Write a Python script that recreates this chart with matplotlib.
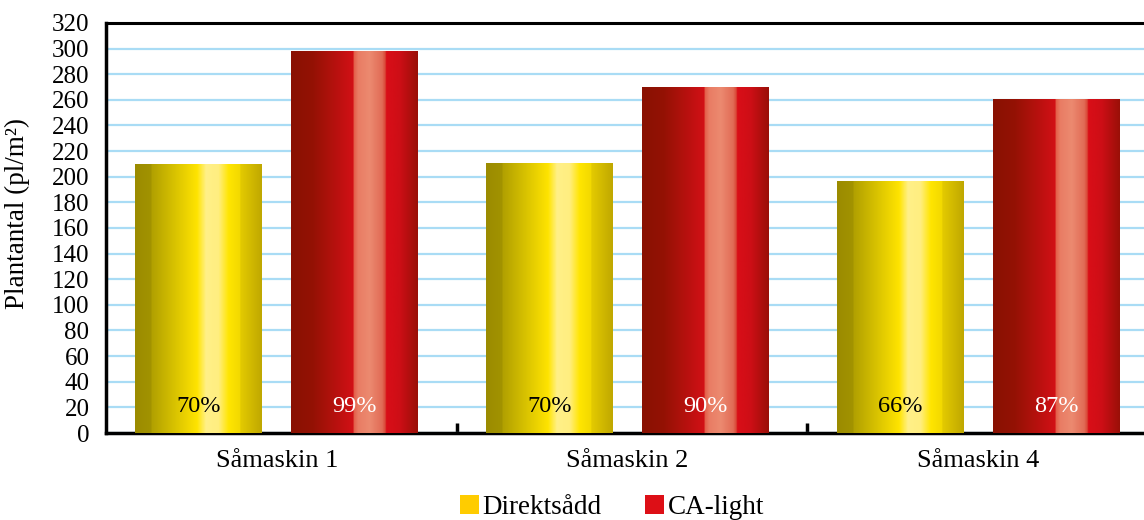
import numpy as np
import matplotlib.pyplot as plt
from matplotlib.colors import LinearSegmentedColormap
from matplotlib.patches import Patch

plt.rcParams['font.family'] = ['Liberation Serif', 'DejaVu Serif']

categories = ['Såmaskin 1', 'Såmaskin 2', 'Såmaskin 4']
series = ['Direktsådd', 'CA-light']
direkt = [210, 211, 197]
ca_light = [298, 270, 261]
direkt_pct = ['70%', '70%', '66%']
ca_pct = ['99%', '90%', '87%']

# cylinder-like shading for the bars
yellow_cmap = LinearSegmentedColormap.from_list('yel', [
    (0.0, '#9b8b00'), (0.125, '#a29300'), (0.13, '#b1a000'),
    (0.49, '#ffe400'), (0.56, '#fff088'), (0.66, '#ffee80'),
    (0.74, '#ffe500'), (0.83, '#f2d900'), (0.835, '#e3ca00'),
    (1.0, '#c0a800')])
red_cmap = LinearSegmentedColormap.from_list('red', [
    (0.0, '#891102'), (0.17, '#941204'), (0.49, '#d21016'),
    (0.495, '#e35d48'), (0.53, '#e97c64'), (0.62, '#ec8a70'),
    (0.72, '#e16b56'), (0.745, '#d94434'), (0.752, '#da0e18'),
    (0.86, '#cd0e16'), (1.0, '#9a1008')])
grad = np.linspace(0, 1, 400).reshape(1, -1)

fig = plt.figure(figsize=(11.44, 5.2), dpi=100)
ax = fig.add_axes([0.0927, 0.1673, 0.9196, 0.7885])

x = np.arange(len(categories))
w = 0.362
bars1 = ax.bar(x - 0.2225, direkt, w, facecolor='none', edgecolor='none', zorder=3)
bars2 = ax.bar(x + 0.2225, ca_light, w, facecolor='none', edgecolor='none', zorder=3)

for bars, cmap in [(bars1, yellow_cmap), (bars2, red_cmap)]:
    for r in bars:
        x0, y0 = r.get_x(), r.get_y()
        im = ax.imshow(grad, cmap=cmap, aspect='auto', zorder=3,
                       extent=(x0, x0 + r.get_width(), y0, y0 + r.get_height()))
        im.set_clip_path(r)

for i in range(len(categories)):
    ax.text(x[i] - 0.2225, 21, direkt_pct[i], ha='center', va='center',
            fontsize=17.5, color='black', zorder=4)
    ax.text(x[i] + 0.2225, 21, ca_pct[i], ha='center', va='center',
            fontsize=17.5, color='white', zorder=4)

ax.set_xlim(-0.487, 2.513)
ax.set_ylim(0, 320)
ax.set_yticks(np.arange(0, 321, 20))
ax.set_xticks(x)
ax.set_xticklabels(categories)
ax.set_xticks(x[:-1] + 0.513, minor=True)
ax.tick_params(axis='x', which='major', length=0, pad=12, labelsize=19)
ax.tick_params(axis='x', which='minor', direction='in', length=7, width=2.5, color='black')
ax.tick_params(axis='y', length=0, pad=12, labelsize=18)
ax.yaxis.grid(True, color='#a9dcf5', linewidth=1.6, zorder=0)
ax.set_axisbelow(True)

for s in ['left', 'bottom']:
    ax.spines[s].set_linewidth(2.5)
ax.spines['top'].set_linewidth(2.2)
ax.spines['right'].set_visible(False)

ax.set_ylabel('Plantantal (pl/m²)', fontsize=19.5)
ax.yaxis.set_label_coords(-0.0725, 0.535)

handles = [Patch(facecolor='#ffcc00'), Patch(facecolor='#dd0f16')]
fig.legend(handles, series, loc='center', bbox_to_anchor=(0.535, 0.024),
           ncol=2, frameon=False, fontsize=19.5, handlelength=0.7, handleheight=0.7,
           handletextpad=0.15, columnspacing=1.6)

fig.savefig('out.png', dpi=100)
